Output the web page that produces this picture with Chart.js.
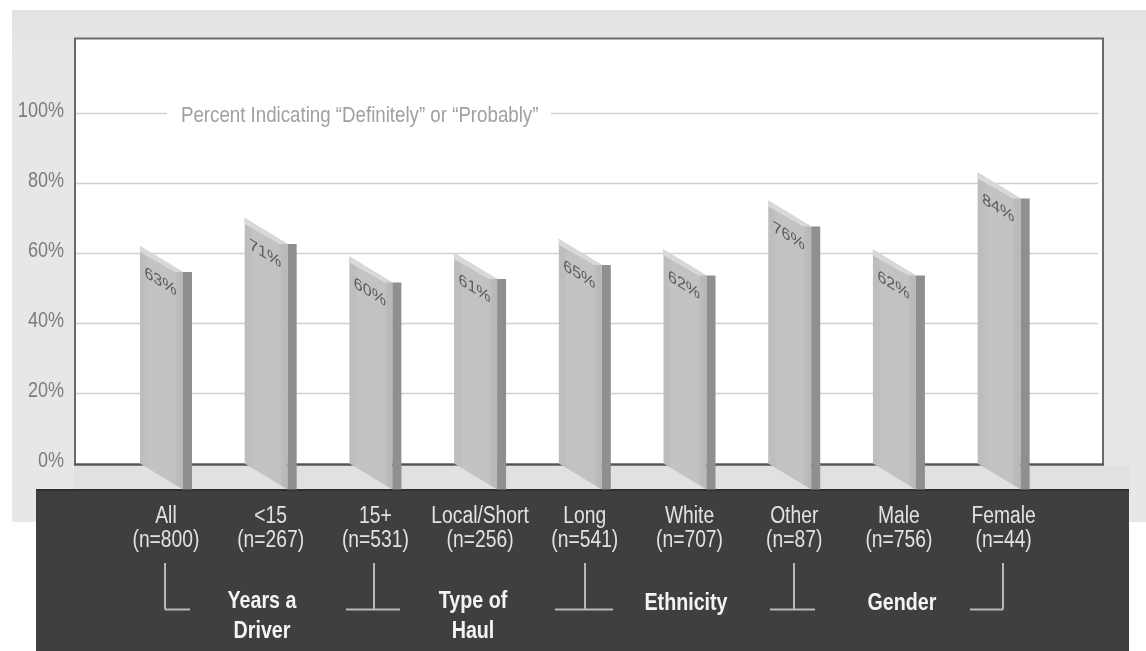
<!DOCTYPE html>
<html>
<head>
<meta charset="utf-8">
<script src="https://cdn.jsdelivr.net/npm/chart.js@4"></script>
<style>html,body{margin:0;padding:0;background:#fff;overflow:hidden}canvas{display:block;filter:blur(0.55px)}</style>
</head>
<body>
<canvas id="c" width="1146" height="651" style="width:1146px;height:651px"></canvas>
<script>
const categories = [["All","(n=800)"],["<15","(n=267)"],["15+","(n=531)"],["Local/Short","(n=256)"],["Long","(n=541)"],["White","(n=707)"],["Other","(n=87)"],["Male","(n=756)"],["Female","(n=44)"]];
const values = [63,71,60,61,65,62,76,62,84];
const yTicks = [0,20,40,60,80,100];
const subtitle = "Percent Indicating \u201CDefinitely\u201D or \u201CProbably\u201D";
const groupLabels = [
  {lines:["Years a","Driver"], x:262, y:601},
  {lines:["Type of","Haul"], x:473, y:601},
  {lines:["Ethnicity"], x:686, y:603},
  {lines:["Gender"], x:902, y:603}
];
const brackets = [
  {v:165, a:165, b:190},
  {v:374, a:346, b:400},
  {v:585, a:555, b:613},
  {v:794, a:770, b:815},
  {v:1003, a:970, b:1003}
];

const FONT = '"Liberation Sans",Arial,sans-serif';
const FRONT = 43, SIDE = 9, DROP = 26, TOPFIX = 3, NARROW = 0.82;

function narrowText(c,text,x,y,align){
  c.save();
  c.translate(x,y);
  c.scale(NARROW,1);
  c.textAlign=align;
  c.textBaseline='middle';
  c.fillText(text,0,0);
  c.restore();
}

const skewBars = {
  id:'skewBars',
  beforeDraw(chart){
    const c = chart.ctx, y = chart.scales.y;
    c.save();
    c.fillStyle='#fff'; c.fillRect(0,0,1146,651);
    const g = c.createLinearGradient(0,10,0,60);
    g.addColorStop(0,'#e2e2e2'); g.addColorStop(1,'#e7e7e7');
    c.fillStyle=g; c.fillRect(12,10,1134,512);
    c.fillStyle='#fff'; c.fillRect(74,38,1029,426);
    c.fillStyle='#e1e1e1'; c.fillRect(74,465,1055,26);
    c.strokeStyle='#d0d0d0'; c.lineWidth=1.4;
    yTicks.forEach(t=>{
      if(t===0) return;
      const py=Math.round(y.getPixelForValue(t))+0.5;
      c.beginPath();
      if(t===100){ c.moveTo(76,py); c.lineTo(167,py); c.moveTo(551,py); c.lineTo(1098,py); }
      else { c.moveTo(76,py); c.lineTo(1098,py); }
      c.stroke();
    });
    c.strokeStyle='#6a6a6a'; c.lineWidth=2;
    c.strokeRect(75,38.5,1028,426);
    c.strokeStyle='#555'; c.beginPath(); c.moveTo(74,464.5); c.lineTo(1104,464.5); c.stroke();
    c.fillStyle='#a0a0a0'; c.font='22.8px '+FONT;
    narrowText(c,subtitle,181,116,'left');
    c.fillStyle='#3f3f3f'; c.fillRect(36,490,1093,161);
    c.fillStyle='#2f2f2f'; c.fillRect(36,489,1093,2);
    c.fillStyle='#7c7c7c'; c.font='22px '+FONT;
    yTicks.forEach(t=>narrowText(c,t+'%',64,y.getPixelForValue(t)-3,'right'));
    c.restore();
  },
  beforeDatasetDraw(chart,args){
    const c = chart.ctx, meta = args.meta;
    c.save();
    meta.data.forEach((el,i)=>{
      const l = el.x - (FRONT+SIDE)/2, r = l+FRONT, top = el.y+TOPFIX, base = el.base;
      const g = c.createLinearGradient(l,0,r,0);
      g.addColorStop(0,'#bdbdbd'); g.addColorStop(.14,'#bebebe'); g.addColorStop(.2,'#c3c3c3');
      g.addColorStop(.8,'#c2c2c2'); g.addColorStop(.88,'#bbbbbb'); g.addColorStop(1,'#b8b8b8');
      c.fillStyle=g;
      c.beginPath(); c.moveTo(l,top); c.lineTo(r,top+DROP); c.lineTo(r,base+DROP); c.lineTo(l,base); c.closePath(); c.fill();
      c.fillStyle='#d8d8d8';
      c.beginPath(); c.moveTo(l,top); c.lineTo(r,top+DROP); c.lineTo(r-8,top+DROP); c.lineTo(l,top+6); c.closePath(); c.fill();
      c.fillStyle='#8f8f8f';
      c.fillRect(r,top+DROP,SIDE,base-top);
      c.save();
      c.translate(l+FRONT/2-1,top+36);
      c.transform(1,DROP/FRONT,0,1,0,0);
      c.fillStyle='#5c5c5c'; c.font='16px '+FONT;
      c.textAlign='center'; c.textBaseline='middle';
      c.fillText(values[i]+'%',0,0);
      c.restore();
    });
    c.restore();
    return false;
  },
  afterDraw(chart){
    const c = chart.ctx, x = chart.scales.x;
    c.save();
    c.fillStyle='#e2e2e2'; c.font='23.5px '+FONT;
    categories.forEach((lines,i)=>{
      const px=x.getPixelForTick(i);
      lines.forEach((t,k)=>narrowText(c,t,px,517+k*24,'center'));
    });
    c.strokeStyle='#b8b8b8'; c.lineWidth=2;
    brackets.forEach(b=>{
      c.beginPath(); c.moveTo(b.v,563); c.lineTo(b.v,609.5); c.stroke();
      c.beginPath(); c.moveTo(b.a,609.5); c.lineTo(b.b,609.5); c.stroke();
    });
    c.fillStyle='#f4f4f4'; c.font='bold 24px '+FONT;
    groupLabels.forEach(g=>g.lines.forEach((t,i)=>narrowText(c,t,g.x,g.y+i*30,'center')));
    c.restore();
  }
};

new Chart(document.getElementById('c'),{
  type:'bar',
  data:{labels:categories,datasets:[{data:values,backgroundColor:'#c0c0c0',categoryPercentage:1,barPercentage:0.5}]},
  options:{
    responsive:false,animation:false,devicePixelRatio:1,
    layout:{autoPadding:false,padding:{top:38,right:90,left:0,bottom:0}},
    plugins:{legend:{display:false},tooltip:{enabled:false},title:{display:false}},
    scales:{
      x:{
        border:{display:false},grid:{display:false,drawTicks:false},
        ticks:{display:false,autoSkip:false,maxRotation:0,minRotation:0},
        afterFit(s){s.height=187.5;}
      },
      y:{
        min:0,max:121.57,
        border:{display:false},grid:{display:false,drawTicks:false},
        ticks:{display:false},
        afterBuildTicks(s){s.ticks=yTicks.map(v=>({value:v}));},
        afterFit(s){s.width=113.6;}
      }
    }
  },
  plugins:[skewBars]
});
</script>
</body>
</html>
